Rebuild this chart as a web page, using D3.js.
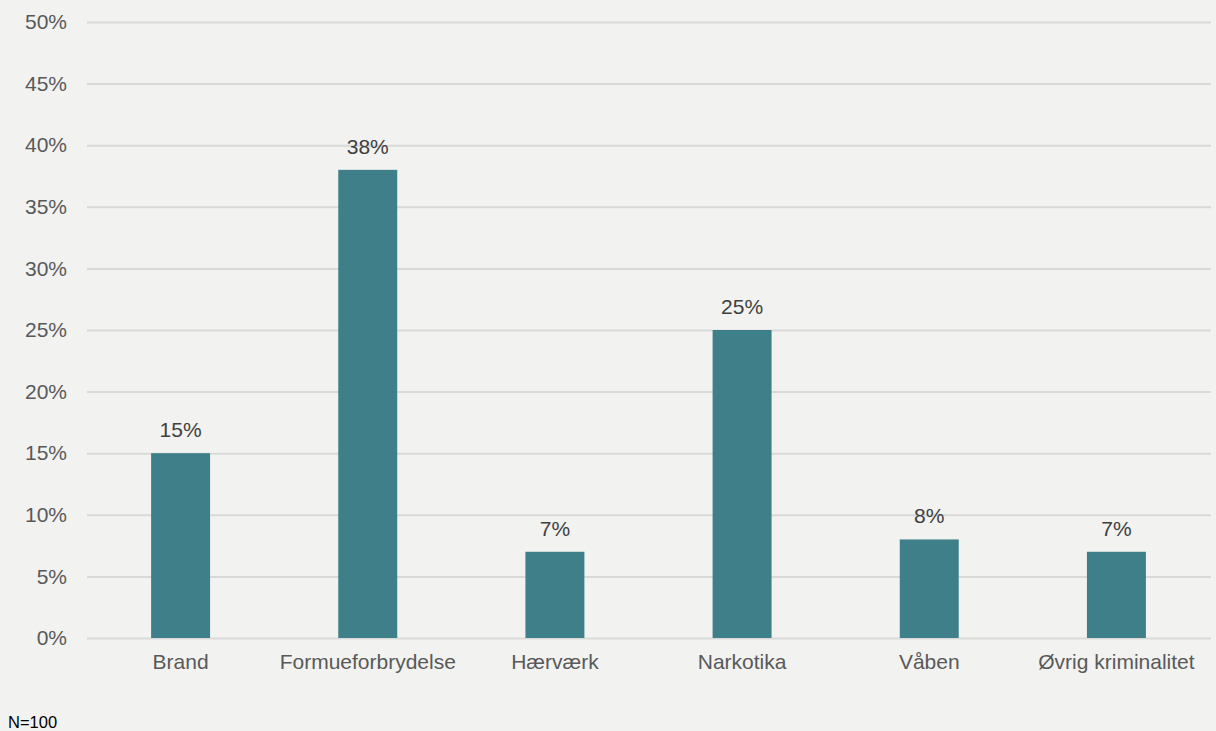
<!DOCTYPE html>
<html>
<head>
<meta charset="utf-8">
<script src="https://cdn.jsdelivr.net/npm/d3@7"></script>
<style>
  body { margin: 0; background: #f2f2f0; }
  svg { display: block; font-family: "Liberation Sans", Arial, sans-serif; }
</style>
</head>
<body>
<div id="chart"></div>
<script>
// data
var categories = ['Brand', 'Formueforbrydelse', 'Hærværk', 'Narkotika', 'Våben', 'Øvrig kriminalitet'];
var values = [15, 38, 7, 25, 8, 7];
var y_ticks = [0, 5, 10, 15, 20, 25, 30, 35, 40, 45, 50];
var note = 'N=100';

var width = 1216, height = 731;
var margin = {top: 22, right: 5, bottom: 93, left: 87};

var svg = d3.select('#chart').append('svg')
    .attr('width', width).attr('height', height);

svg.append('rect').attr('width', width).attr('height', height).attr('fill', '#f2f2f0');

var x_scale = d3.scaleBand().domain(categories)
    .range([margin.left, width - margin.right - 1])
    .paddingInner(0.685).paddingOuter(0.3425);
var y_scale = d3.scaleLinear().domain([0, 50]).range([height - margin.bottom, margin.top]);

// gridlines + y labels
var y_axis = svg.append('g').attr('class', 'y_axis')
    .attr('transform', 'translate(' + margin.left + ',0)')
    .call(d3.axisLeft(y_scale).tickValues(y_ticks).tickFormat(d => d + '%')
        .tickSize(-(width - margin.right - margin.left)).tickPadding(20));
y_axis.select('.domain').remove();
y_axis.selectAll('line').attr('stroke', '#d9d9d9').attr('stroke-width', 2);
y_axis.selectAll('text').attr('fill', '#595959').attr('font-size', '21px');

// bars
svg.append('g').selectAll('rect').data(values).enter().append('rect')
    .attr('x', (d, i) => x_scale(categories[i]))
    .attr('y', d => y_scale(d))
    .attr('width', x_scale.bandwidth())
    .attr('height', d => y_scale(0) - y_scale(d))
    .attr('fill', '#3e7f8a');

// value labels
svg.append('g').selectAll('text').data(values).enter().append('text')
    .attr('x', (d, i) => x_scale(categories[i]) + x_scale.bandwidth() / 2)
    .attr('y', d => y_scale(d) - 16)
    .attr('text-anchor', 'middle')
    .attr('fill', '#404040').attr('font-size', '21px')
    .text(d => d + '%');

// x labels
var x_axis = svg.append('g').attr('class', 'x_axis')
    .attr('transform', 'translate(0,' + y_scale(0) + ')')
    .call(d3.axisBottom(x_scale).tickSize(0).tickPadding(16));
x_axis.select('.domain').remove();
x_axis.selectAll('text').attr('fill', '#595959').attr('font-size', '21px');

svg.append('text').text(note).attr('x', 8).attr('y', 728)
    .attr('fill', '#000').attr('font-size', '16.5px');
</script>
</body>
</html>
